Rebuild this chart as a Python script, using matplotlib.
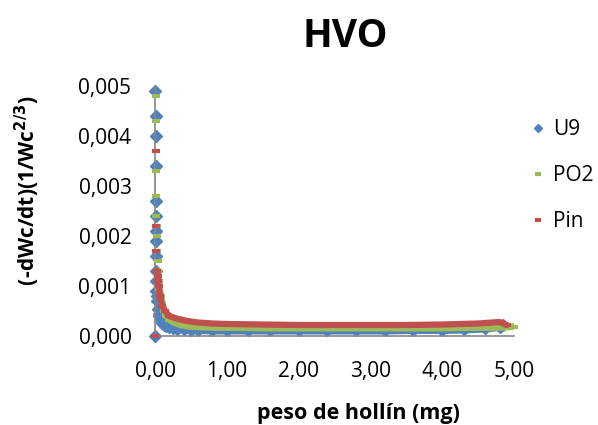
import matplotlib.pyplot as plt

plt.rcParams['font.family'] = ['Open Sans', 'DejaVu Sans']

# U9 series (blue diamonds)
u9_x = [0.0, 0.0, 0.01, 0.01, 0.01, 0.01, 0.01, 0.01, 0.01, 0.015, 0.015, 0.02, 0.02,
        0.025, 0.03, 0.04, 0.05, 0.06, 0.08, 0.10, 0.13, 0.16, 0.2, 0.25, 0.3, 0.4,
        0.5, 0.6, 0.8, 1.0, 1.3, 1.6, 2.0, 2.4, 2.8, 3.2, 3.6, 4.0, 4.3, 4.6, 4.8, 4.85]
u9_y = [0.0, 0.0049, 0.0044, 0.0040, 0.0034, 0.0027, 0.0024, 0.0021, 0.0019, 0.0016,
        0.0013, 0.0011, 0.0009, 0.0008, 0.0007, 0.00055, 0.00045, 0.0004, 0.00032,
        0.00027, 0.00023, 0.0002, 0.00018, 0.00016, 0.00015, 0.00014, 0.00013, 0.00013,
        0.00012, 0.00012, 0.00012, 0.00012, 0.00012, 0.00012, 0.00012, 0.00012, 0.00013,
        0.00013, 0.00014, 0.00016, 0.00019, 0.00022]

# PO2 series (green dashes)
po2_x = [0.02, 0.02, 0.02, 0.02, 0.02, 0.025, 0.025, 0.03, 0.035, 0.04, 0.05, 0.06, 0.08,
         0.1, 0.13, 0.16, 0.2, 0.25, 0.3, 0.4, 0.5, 0.7, 0.9, 1.2, 1.5, 2.0, 2.5,
         3.0, 3.5, 4.0, 4.4, 4.7, 4.9, 5.0]
po2_y = [0.0048, 0.0043, 0.0033, 0.0028, 0.0024, 0.0022, 0.002, 0.0017, 0.0015, 0.0013,
         0.0011, 0.00095, 0.0008, 0.00065, 0.0005, 0.0004, 0.00033, 0.00028, 0.00025,
         0.00021, 0.00019, 0.00018, 0.00017, 0.00017, 0.00016, 0.00016, 0.00016,
         0.00016, 0.00016, 0.00016, 0.00017, 0.00017, 0.00018, 0.00019]

# Pin series (red dashes)
pin_x = [0.0, 0.02, 0.02, 0.02, 0.03, 0.035, 0.04, 0.05, 0.07, 0.1, 0.14, 0.2, 0.3, 0.45,
         0.6, 0.8, 1.0, 1.5, 2.0, 2.5, 3.0, 3.5, 4.0, 4.5, 4.8, 4.9]
pin_y = [0.0, 0.0037, 0.0022, 0.0017, 0.0013, 0.0012, 0.0011, 0.001, 0.0008, 0.0006,
         0.0005, 0.0004, 0.00035, 0.0003, 0.00027, 0.00025, 0.00024, 0.00023,
         0.00022, 0.00022, 0.00022, 0.00022, 0.00023, 0.00025, 0.00028, 0.00022]

xticks = [0, 1, 2, 3, 4, 5]
yticks = [0, 0.001, 0.002, 0.003, 0.004, 0.005]

blue, green, red = '#4F81BD', '#9BBB59', '#C0504D'

fig = plt.figure(figsize=(5.98, 4.25), dpi=100)
ax = fig.add_axes([0.2592, 0.2094, 0.6003, 0.5882])

# dense band drawn as thick line behind the markers
ax.plot(u9_x[13:], u9_y[13:], color=blue, lw=6.5, solid_capstyle='round', zorder=2)
ax.plot(po2_x[9:], po2_y[9:], color=green, lw=5, solid_capstyle='round', zorder=3)
ax.plot(pin_x[4:], pin_y[4:], color=red, lw=4.5, solid_capstyle='round', zorder=4)

ax.plot(u9_x, u9_y, ls='none', marker='D', ms=6, color=blue, label='U9', zorder=2, clip_on=False)
ax.plot(po2_x, po2_y, ls='none', marker='_', ms=6, mew=3, color=green, label='PO2', zorder=3, clip_on=False)
ax.plot(pin_x, pin_y, ls='none', marker='_', ms=6, mew=3, color=red, label='Pin', zorder=4, clip_on=False)

ax.set_xlim(0, 5)
ax.set_ylim(0, 0.005)
ax.set_xticks(xticks)
ax.set_xticklabels([('%.2f' % v).replace('.', ',') for v in xticks])
ax.set_yticks(yticks)
ax.set_yticklabels([('%.3f' % v).replace('.', ',') for v in yticks])
ax.tick_params(length=0, labelsize=15)
ax.tick_params(axis='x', pad=18)
ax.tick_params(axis='y', pad=17)

for s in ['top', 'right']:
    ax.spines[s].set_visible(False)
for s in ['left', 'bottom']:
    ax.spines[s].set_color('#868686')
    ax.spines[s].set_linewidth(1.2)

fig.text(0.577, 0.889, 'HVO', ha='center', va='baseline', fontsize=28, fontweight='bold')
fig.text(0.6, 0.014, 'peso de hollín (mg)', ha='center', va='baseline', fontsize=15.5, fontweight='bold')
fig.text(0.046, 0.55, r'(-dWc/dt)(1/Wc$^{\mathbf{2/3}}$)', ha='center', va='center', rotation=90,
         fontsize=15, fontweight='bold')

leg = ax.legend(loc='center left', bbox_to_anchor=(0.885, 0.586), bbox_transform=fig.transFigure,
                frameon=False, fontsize=15, borderpad=0, borderaxespad=0,
                handlelength=0.8, handletextpad=0.35, labelspacing=1.2, markerscale=0.7)

fig.savefig('out.png', dpi=100)
